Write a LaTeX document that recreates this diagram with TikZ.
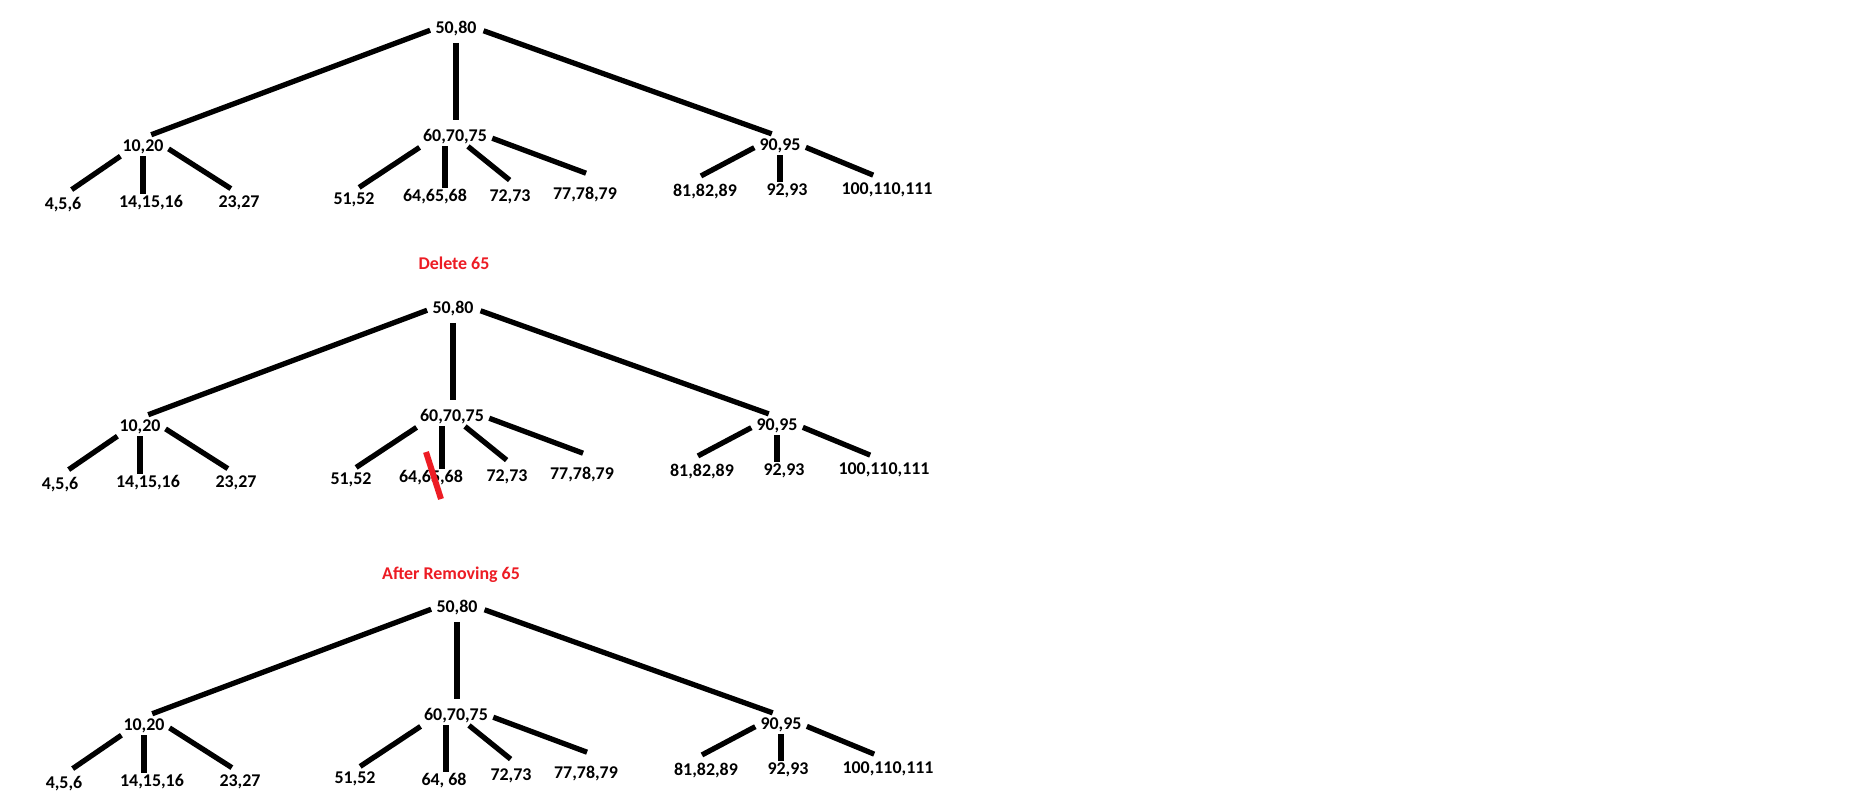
\documentclass[tikz,border=0pt]{standalone}
\usepackage{fontspec}
\setmainfont{Carlito}
\usepackage{tikz}
\usetikzlibrary{calc}
\definecolor{paintred}{RGB}{237,28,36}

\begin{document}
\begin{tikzpicture}[x=0.02cm, y=-0.02cm,
    key/.style={font=\fontsize{10.2}{12}\selectfont\bfseries, inner sep=1pt},
    title/.style={key, text=paintred},
    link/.style={line width=3pt}]
  \fill[white] (0,0) rectangle (1867,796);
  \useasboundingbox (0,0) rectangle (1867,796);
  % the same 2-3 tree, three times
  \foreach \t/\rx/\ry/\leaf/\mx/\my in {1/456/29/{64,65,68}/-21/168,
      2/453/309/{64,65,68}/-22/169, 3/457/608/{64, 68}/-13/173} {
    \begin{scope}[shift={(\rx,\ry)}]
      \node[key] (root\t) at (0,0) {50,80};
      \node[key] (left\t) at (-313,118) {10,20};
      \node[key] (mid\t) at (-1,108) {60,70,75};
      \node[key] (right\t) at (324,117) {90,95};
      \node[key] (la\t) at (-393,176) {4,5,6};
      \node[key] (lb\t) at (-305,174) {14,15,16};
      \node[key] (lc\t) at (-217,174) {23,27};
      \node[key] (ma\t) at (-102,171) {51,52};
      \node[key] (mb\t) at (\mx,\my) {\leaf};
      \node[key] (mc\t) at (54,168) {72,73};
      \node[key] (md\t) at (129,166) {77,78,79};
      \node[key] (ra\t) at (249,163) {81,82,89};
      \node[key] (rb\t) at (331,162) {92,93};
      \node[key] (rc\t) at (431,161) {100,110,111};
      % root
      \draw[link, shorten <=2pt, shorten >=5pt] (root\t.west) -- (left\t.north);
      \draw[link, shorten <=2.5pt, shorten >=4.5pt] (root\t.south) -- (root\t.south |- mid\t.north);
      \draw[link, shorten <=3pt, shorten >=5pt] (root\t.east) -- (right\t.north);
      % left
      \draw[link, shorten >=6pt] (left\t.south west) -- (la\t.north);
      \draw[link] (left\t.south) -- (left\t.south |- lb\t.north);
      \draw[link, shorten <=2pt, shorten >=5.5pt] (left\t.east) -- (lc\t.north);
      % middle
      \coordinate (mv\t) at ($(mid\t.south)+(-10,0)$);
      \draw[link, shorten <=1pt, shorten >=3.5pt] (mid\t.south west) -- (ma\t.north);
      \draw[link] (mv\t) -- (mv\t |- mb\t.north);
      \draw[link, shorten >=7pt] ($(mid\t.south)+(13,0)$) -- (mc\t.45);
      \draw[link, shorten <=2pt, shorten >=20pt] (mid\t.east) -- (md\t.north east);
      % right
      \draw[link, shorten <=2pt, shorten >=8pt] (right\t.west) -- (ra\t.150);
      \draw[link] (right\t.south) -- (right\t.south |- rb\t.north);
      \draw[link, shorten <=2pt, shorten >=8.5pt] (right\t.east) -- (rc\t.north);
    \end{scope}
  }
  \node[title] (del) at (454,263) {Delete 65};
  \node[title] (after) at (451,575) {After Removing 65};
  \draw[paintred, line width=3.4pt] ($(mb2.center)+(-5,-26)$) -- ($(mb2.center)+(10,21)$);
\end{tikzpicture}
\end{document}
